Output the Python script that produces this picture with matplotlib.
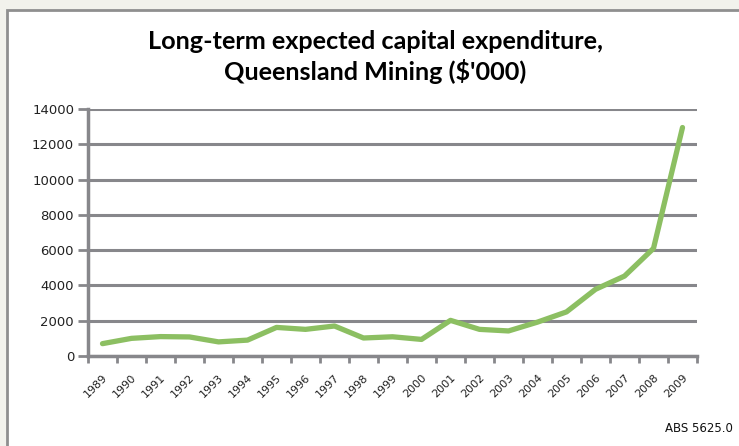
import matplotlib.pyplot as plt
from matplotlib.patches import Rectangle

# Long-term expected capital expenditure, Queensland mining ($'000)
years = [str(y) for y in range(1989, 2010)]
capex = [700, 1000, 1100, 1080, 800, 900, 1620, 1510, 1700, 1020, 1090,
         940, 2020, 1510, 1420, 1920, 2500, 3780, 4530, 6100, 12950]
y_ticks = [0, 2000, 4000, 6000, 8000, 10000, 12000, 14000]

green = "#8cbf62"
grid_grey = "#87878b"

fig = plt.figure(figsize=(7.39, 4.46), dpi=100)
fig.patch.set_facecolor("#f2f2ec")

# white chart box with grey border on top/left
box = Rectangle((6.5 / 739, -0.05), 1.0, 1 - 9.5 / 446 + 0.05,
                transform=fig.transFigure, facecolor="white",
                edgecolor="#8f8f8f", linewidth=2, zorder=-10)
fig.patches.append(box)

ax = fig.add_axes([88 / 739, 1 - 356 / 446, (697 - 88) / 739, (356 - 109) / 446])
ax.set_facecolor("white")

x = range(len(years))
ax.plot(x, capex, color=green, linewidth=3.8, solid_capstyle="round",
        solid_joinstyle="round", zorder=3)

ax.set_xlim(-0.5, len(years) - 0.5)
ax.set_ylim(0, 14000)
ax.set_yticks(y_ticks)
ax.set_yticklabels([str(v) for v in y_ticks], fontsize=9.5, color="#222222")
ax.yaxis.grid(True, color=grid_grey, linewidth=2.2)
ax.set_axisbelow(True)

# ticks between categories, labels at categories
ax.set_xticks([i - 0.5 for i in range(len(years) + 1)])
ax.set_xticklabels([])
ax.set_xticks(list(x), minor=True)
ax.set_xticklabels(years, minor=True, rotation=45, ha="right", va="top",
                   rotation_mode="anchor", fontsize=8, color="#222222")
ax.tick_params(axis="x", which="major", length=5, width=2, color=grid_grey)
ax.tick_params(axis="x", which="minor", length=0, pad=12)
ax.tick_params(axis="y", length=7, width=2, color=grid_grey, pad=3)

for side in ["top", "right"]:
    ax.spines[side].set_visible(False)
for side in ["left", "bottom"]:
    ax.spines[side].set_color(grid_grey)
    ax.spines[side].set_linewidth(2.5)

fig.text(0.508, 1 - 57 / 446, "Long-term expected capital expenditure,\nQueensland Mining ($'000)",
         ha="center", va="center", fontsize=18.2, fontweight="bold",
         family="Lato", linespacing=1.25)

fig.text(733 / 739, 1 - 428 / 446, "ABS 5625.0", ha="right", va="center",
         fontsize=8.5, color="#111111")

fig.savefig("out.png", dpi=100, facecolor=fig.get_facecolor())
